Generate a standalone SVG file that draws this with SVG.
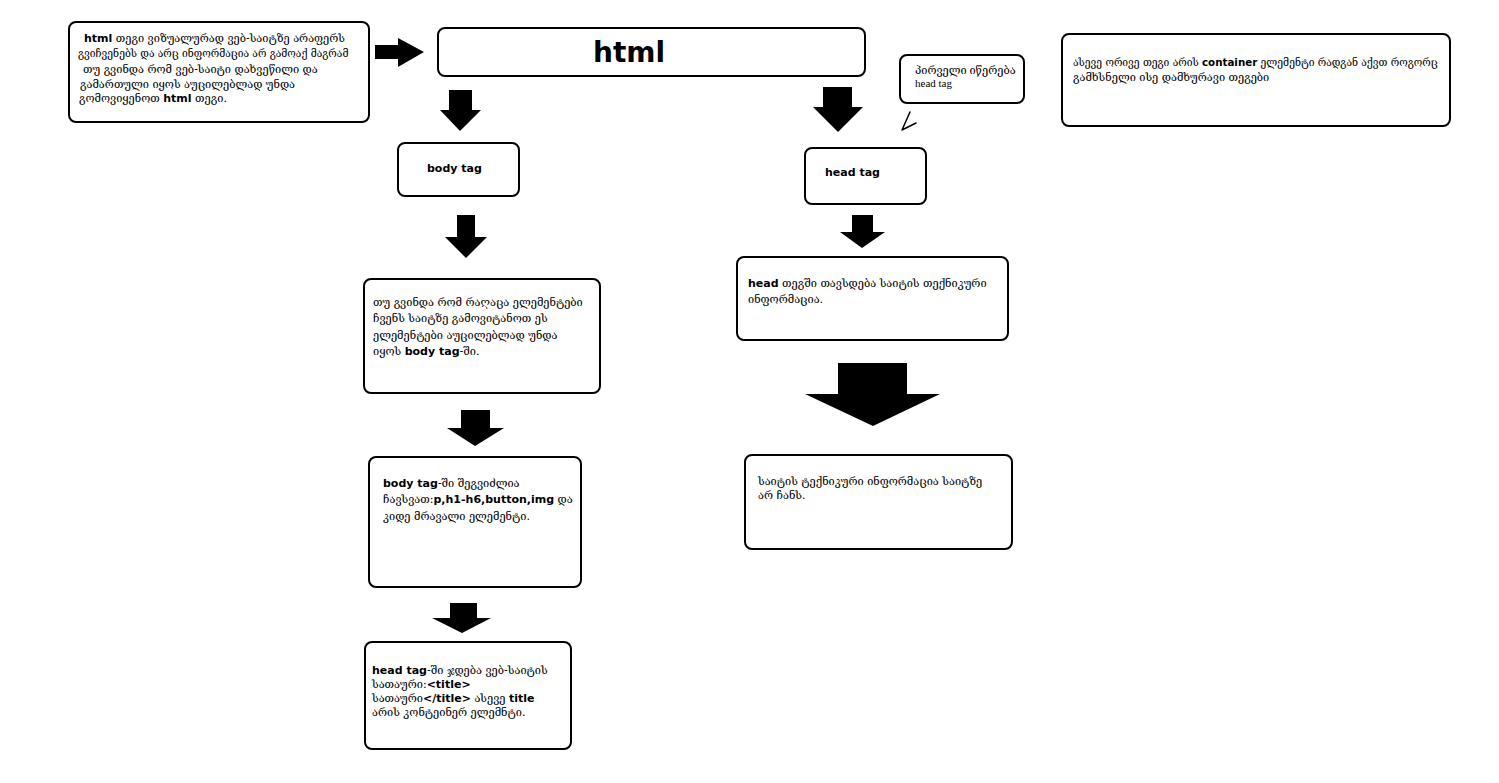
<svg xmlns="http://www.w3.org/2000/svg" width="1499" height="783" viewBox="0 0 1499 783">
<style>
.box{fill:#fff;stroke:#000;stroke-width:2}
.t{font-family:"DejaVu Serif","DejaVu Sans",serif;font-size:11px;fill:#000}
.s{font-size:10.3px}
.b{font-family:"DejaVu Sans",sans-serif;font-weight:bold}
.h{font-family:"DejaVu Sans",sans-serif;font-weight:bold;font-size:28px;fill:#000}
.n{font-family:"Liberation Serif","DejaVu Serif",serif;font-size:11px;fill:#000}
.arr{fill:#000}
</style>
<rect width="1499" height="783" fill="#fff"/>
<g id="connectors">
<polygon class="arr" points="375,45 398,45 398,38 424,52 398,67 398,59 375,59"/>
<polygon class="arr" points="449,90 472,90 472,110 481,110 460,131 440,110 449,110"/>
<polygon class="arr" points="823,87 852,87 852,107 863,107 838,132 813,107 823,107"/>
<polygon class="arr" points="457,215 475,215 475,237 487,237 466,258 445,237 457,237"/>
<polygon class="arr" points="852,215 873,215 873,232 885,232 862,248 840,232 852,232"/>
<polygon class="arr" points="461,410 490,410 490,428 504,428 475,446 447,428 461,428"/>
<polygon class="arr" points="450,603 477,603 477,618 491,618 462,633 432,618 450,618"/>
<polygon class="arr" points="838,363 907,363 907,394 940,394 873,426 805,394 838,394"/>
<polyline points="910,112 902,130 916,123" fill="none" stroke="#000" stroke-width="1.5" stroke-linecap="round" stroke-linejoin="round"/>
</g>
<g id="node-intro">
<rect class="box" x="69" y="22" width="300" height="100" rx="7"/>
<text class="t"><tspan x="84" y="42"><tspan class="b">html</tspan> თეგი ვიზუალურად ვებ-საიტზე არაფერს</tspan><tspan class="s" x="78" y="57">გვიჩვენებს და არც ინფორმაცია არ გამოაქ მაგრამ</tspan><tspan x="83" y="73">თუ გვინდა რომ ვებ-საიტი დახვეწილი და</tspan><tspan x="80" y="88">გამართული იყოს აუცილებლად უნდა</tspan><tspan x="79" y="102">გომოვიყენოთ <tspan class="b">html</tspan> თეგი.</tspan></text>
</g>
<g id="node-html">
<rect class="box" x="438" y="28" width="427" height="48" rx="7"/>
<text class="h" x="629" y="62" text-anchor="middle">html</text>
</g>
<g id="node-note">
<rect class="box" x="900" y="55" width="124" height="48" rx="7"/>
<text class="n"><tspan x="915" y="74">პირველი იწერება</tspan><tspan x="915" y="87">head tag</tspan></text>
</g>
<g id="node-container">
<rect class="box" x="1062" y="34" width="388" height="92" rx="7"/>
<text class="t"><tspan class="s" x="1073" y="66">ასევე ორივე თეგი არის <tspan class="b">container</tspan> ელემენტი რადგან აქვთ როგორც</tspan><tspan x="1073" y="81">გამხსნელი ისე დამხურავი თეგები</tspan></text>
</g>
<g id="node-body">
<rect class="box" x="398" y="143" width="121" height="53" rx="7"/>
<text class="t b" x="427" y="172">body tag</text>
</g>
<g id="node-head">
<rect class="box" x="805" y="148" width="121" height="56" rx="7"/>
<text class="t b" x="825" y="176">head tag</text>
</g>
<g id="node-body-text">
<rect class="box" x="364" y="279" width="236" height="114" rx="7"/>
<text class="t"><tspan x="373" y="306">თუ გვინდა რომ რაღაცა ელემენტები</tspan><tspan x="373" y="322">ჩვენს საიტზე გამოვიტანოთ ეს</tspan><tspan x="373" y="339">ელემენტები აუცილებლად უნდა</tspan><tspan x="373" y="355">იყოს <tspan class="b">body tag</tspan>-ში.</tspan></text>
</g>
<g id="node-head-text">
<rect class="box" x="737" y="257" width="271" height="83" rx="7"/>
<text class="t"><tspan x="748" y="287"><tspan class="b">head</tspan> თეგში თავსდება საიტის თექნიკური</tspan><tspan x="748" y="303">ინფორმაცია.</tspan></text>
</g>
<g id="node-body-elements">
<rect class="box" x="369" y="457" width="212" height="130" rx="7"/>
<text class="t"><tspan x="383" y="487"><tspan class="b">body tag</tspan>-ში შეგვიძლია</tspan><tspan x="383" y="503">ჩავსვათ:<tspan class="b">p,h1-h6,button,img</tspan> და</tspan><tspan x="383" y="520">კიდე მრავალი ელემენტი.</tspan></text>
</g>
<g id="node-head-title">
<rect class="box" x="365" y="642" width="206" height="107" rx="7"/>
<text class="t"><tspan x="372" y="674"><tspan class="b">head tag</tspan>-ში ჯდება ვებ-საიტის</tspan><tspan x="372" y="688">სათაური:<tspan class="b">&lt;title&gt;</tspan></tspan><tspan x="372" y="702">სათაური<tspan class="b">&lt;/title&gt;</tspan> ასევე <tspan class="b">title</tspan></tspan><tspan x="372" y="716">არის კონტეინერ ელემნტი.</tspan></text>
</g>
<g id="node-hidden">
<rect class="box" x="745" y="455" width="267" height="94" rx="7"/>
<text class="t"><tspan x="758" y="485">საიტის ტექნიკური ინფორმაცია საიტზე</tspan><tspan x="758" y="499">არ ჩანს.</tspan></text>
</g>
</svg>
